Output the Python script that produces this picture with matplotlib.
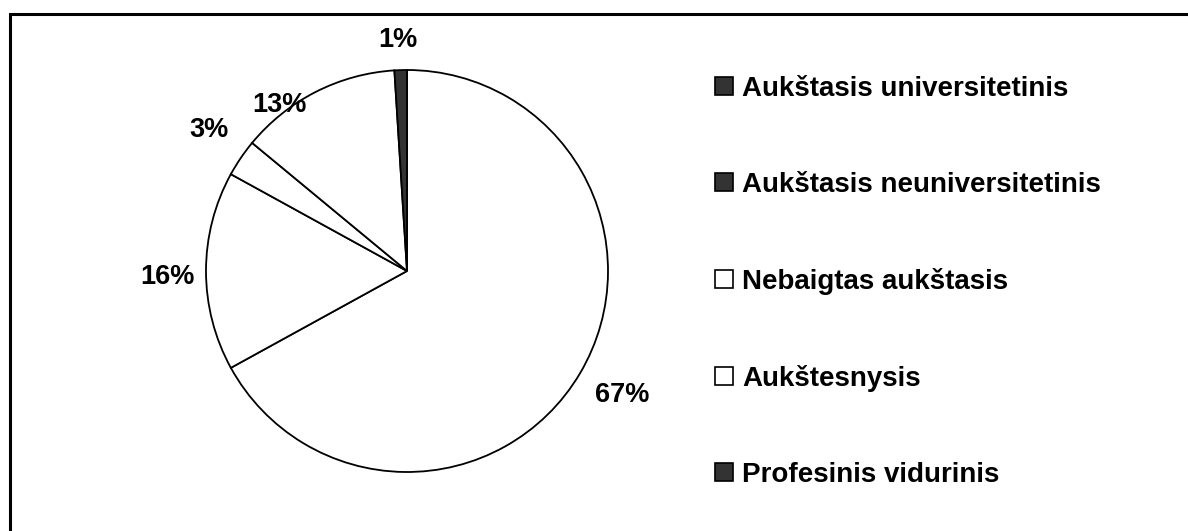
import numpy as np
import matplotlib.pyplot as plt
from matplotlib.patches import Patch, Rectangle

plt.rcParams['font.family'] = ['Liberation Sans', 'DejaVu Sans']

# data (Excel order, clockwise from 12 o'clock)
categories = ["Aukštasis universitetinis", "Aukštasis neuniversitetinis",
              "Nebaigtas aukštasis", "Aukštesnysis", "Profesinis vidurinis"]
values = [67, 16, 3, 13, 1]
pct_labels = ["67%", "16%", "3%", "13%", "1%"]

# styling
wedge_colors = ["white", "white", "white", "white", "#333333"]
legend_colors = ["#333333", "#333333", "white", "white", "#333333"]
# label placement: (angle in degrees, radius in pie radii)
label_pos = [(-30.0, 1.235), (181.5, 1.19), (144.7, 1.21), (127.5, 1.04), (92.2, 1.15)]

W, H = 1188, 531
fig = plt.figure(figsize=(W / 100, H / 100), dpi=100)

# pie axes: centre (407, 271) px, radius 201 px
cx, cy, r = 407, 271, 201
ax = fig.add_axes([(cx - r) / W, (H - cy - r) / H, 2 * r / W, 2 * r / H])
ax.pie(values, colors=wedge_colors, startangle=90, counterclock=False,
       radius=1, wedgeprops=dict(edgecolor="black", linewidth=1.3))
ax.set_xlim(-1, 1)
ax.set_ylim(-1, 1)
ax.set_aspect("auto")
ax.axis("off")

for txt, (ang, dist) in zip(pct_labels, label_pos):
    a = np.deg2rad(ang)
    ax.text(dist * np.cos(a), dist * np.sin(a), txt, ha="center", va="center",
            fontsize=19.5, fontweight="bold", clip_on=False)

handles = [Patch(facecolor=c, edgecolor="black", linewidth=1.2) for c in legend_colors]
fig.legend(handles, categories, loc="upper left",
           bbox_to_anchor=(701 / W, 1 - 62 / H), frameon=False,
           prop=dict(size=20, weight="bold"), handlelength=0.65, handleheight=0.65,
           handletextpad=0.33, labelspacing=2.52, borderpad=0)

# outer chart border (only top and left visible)
fig.patches.append(Rectangle((10 / W, -0.1), 1.2, 1.1 - 14 / H, transform=fig.transFigure,
                             fill=False, edgecolor="black", linewidth=2.2))

fig.savefig("out.png", dpi=100)
